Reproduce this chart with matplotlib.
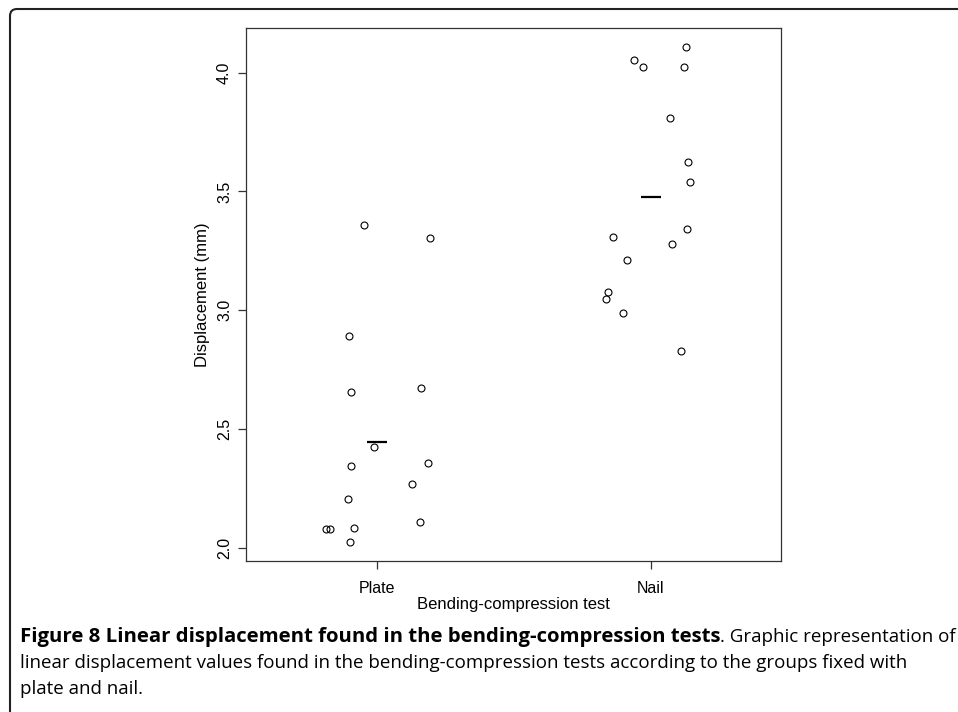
import numpy as np
import matplotlib.pyplot as plt
from matplotlib.patches import FancyBboxPatch

# groups on the x axis
groups = ["Plate", "Nail"]
group_pos = [1, 2]

# jittered points (x = jittered group position, y = displacement in mm)
plate_x = [0.954, 1.194, 0.899, 0.906, 1.160, 0.991, 0.906, 1.188, 1.129, 0.895, 0.816, 0.830, 0.918, 1.157, 0.903]
plate_y = [3.360, 3.304, 2.891, 2.655, 2.673, 2.425, 2.342, 2.357, 2.270, 2.207, 2.080, 2.080, 2.084, 2.110, 2.026]
nail_x = [2.128, 1.937, 1.971, 2.119, 2.070, 2.136, 2.143, 2.132, 1.863, 2.077, 1.911, 1.842, 1.835, 1.899, 2.109]
nail_y = [4.108, 4.053, 4.024, 4.024, 3.809, 3.623, 3.539, 3.343, 3.309, 3.280, 3.213, 3.078, 3.048, 2.987, 2.829]
group_means = [2.444, 3.477]

yticks = [2.0, 2.5, 3.0, 3.5, 4.0]
ytick_labels = ["2.0", "2.5", "3.0", "3.5", "4.0"]

cap_bold = "Figure 8 Linear displacement found in the bending-compression tests"
cap_rest = ". Graphic representation of"
cap_line2 = "linear displacement values found in the bending-compression tests according to the groups fixed with"
cap_line3 = "plate and nail."

W, H = 958, 712
fig = plt.figure(figsize=(W / 100, H / 100), dpi=100)
ax = fig.add_axes([245.7 / W, 1 - 561 / H, 535 / W, 533 / H])

pts = dict(marker='o', ls='none', mfc='none', mec='black', ms=5, mew=0.8)
ax.plot(plate_x, plate_y, **pts)
ax.plot(nail_x, nail_y, **pts)
ax.plot(group_pos, group_means, marker='_', ls='none', color='black', ms=14, mew=1.6)

ax.set_xlim(0.522, 2.473)
ax.set_ylim(1.944, 4.188)
ax.set_xticks(group_pos)
ax.set_xticklabels(groups)
ax.set_yticks(yticks)
ax.set_yticklabels(ytick_labels)

for sp in ax.spines.values():
    sp.set_color('#333333')
    sp.set_linewidth(0.9)
ax.tick_params(length=5.8, width=0.9, color='#333333', labelsize=11.5)
ax.tick_params(axis='x', pad=8.5)
ax.tick_params(axis='y', pad=4)
plt.setp(ax.get_yticklabels(), rotation=90, va='center', ha='right')

lab_family = ['Liberation Sans', 'DejaVu Sans']
for t in ax.get_xticklabels() + ax.get_yticklabels():
    t.set_family(lab_family)
ax.set_xlabel("Bending-compression test", fontsize=12, labelpad=1, family=lab_family)
ax.set_ylabel("Displacement (mm)", fontsize=12, labelpad=5, family=lab_family)

# rounded frame around the figure panel
frame = FancyBboxPatch((0.10, -0.5), 10.5, 7.03 + 0.5, boxstyle="round,pad=0,rounding_size=0.07",
                       transform=fig.dpi_scale_trans, fill=False, ec='#222222', lw=1.5)
fig.patches.append(frame)

# caption: regular text sized so line 2 ends where it does in the figure,
# bold title sized so that line 1 reaches the right edge
cap_family = ['Open Sans', 'DejaVu Sans']
x_left = 20
r = fig.canvas.get_renderer()

t_l2 = fig.text(x_left / W, 1 - 668 / H, cap_line2, fontsize=12, family=cap_family)
s_reg = 12 * (905 - x_left) / t_l2.get_window_extent(r).width
t_l2.set_fontsize(s_reg)
fig.text(x_left / W, 1 - 694 / H, cap_line3, fontsize=s_reg, family=cap_family)

t2 = fig.text(0, 1 - 642 / H, cap_rest, fontsize=s_reg, family=cap_family)
w_rest = t2.get_window_extent(r).width
t1 = fig.text(x_left / W, 1 - 642 / H, cap_bold, fontsize=12, weight='bold', family=cap_family)
s_bold = 12 * (955 - x_left - w_rest) / t1.get_window_extent(r).width
t1.set_fontsize(s_bold)
t2.set_x(t1.get_window_extent(r).x1 / W)

plt.savefig("out.png", dpi=100)
